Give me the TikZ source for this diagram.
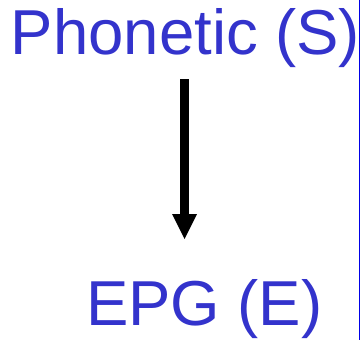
\documentclass[tikz,border=0pt]{standalone}
\usepackage{fontspec}
\setmainfont{Liberation Sans}
\definecolor{txtblue}{RGB}{51,51,204}
\definecolor{lineblue}{RGB}{0,0,230}
\begin{document}
\begin{tikzpicture}[x=1pt,y=1pt,
  lbl/.style={anchor=base west,inner sep=0pt,outer sep=0pt,text=txtblue,font=\fontsize{63.5}{70}\selectfont}]
\useasboundingbox (0,0) rectangle (361,-340);
\node[lbl] (ph) at (10.8,-54.5) {Phonetic (S)};
\node[lbl] (epg) at (86,-325) {EPG (E)};
\coordinate (a) at (184.5,-79);
\coordinate (b) at (184.5,-214);
\coordinate (tip) at (184.5,-239);
\draw[line width=8.5pt] (a) -- (b);
\fill ([xshift=-12.5pt]b) -- ([xshift=12.5pt]b) -- (tip) -- cycle;
\coordinate (r1) at (359.5,0);
\coordinate (r2) at (359.5,-340);
\draw[lineblue,line width=1.2pt] (r1) -- (r2);
\end{tikzpicture}
\end{document}
